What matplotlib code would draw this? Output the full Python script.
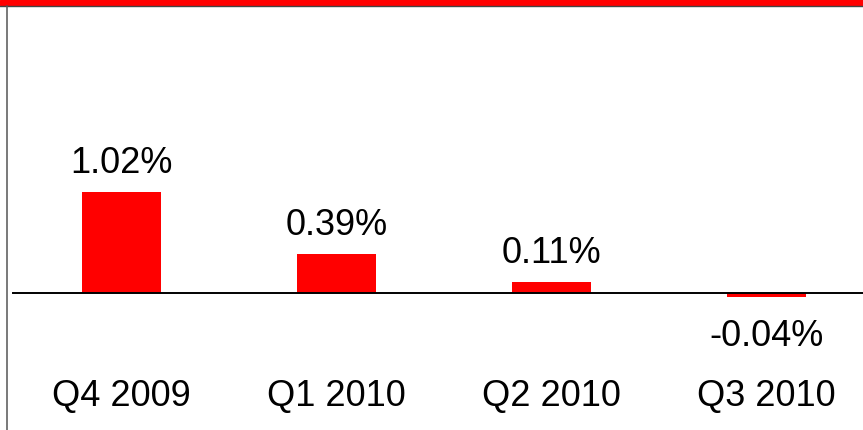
import matplotlib.pyplot as plt
from matplotlib.lines import Line2D
from matplotlib.patches import Rectangle
import matplotlib.transforms as mtransforms

quarters = ['Q4 2009', 'Q1 2010', 'Q2 2010', 'Q3 2010']
growth = [1.02, 0.39, 0.11, -0.04]
labels = ['1.02%', '0.39%', '0.11%', '-0.04%']

plt.rcParams['font.family'] = ['Liberation Sans', 'DejaVu Sans']

W, H = 863, 430
fig = plt.figure(figsize=(W / 100, H / 100), dpi=100)
ax = fig.add_axes([0, 0, 1, 1])
ax.axis('off')

x = list(range(len(quarters)))
ax.bar(x, growth, width=0.367, color='#ff0000', zorder=2)

ax.set_xlim(-121.5 / 215, (W - 121.5) / 215)
ax.set_ylim(-(H - 293) / 99, 293 / 99)

# baseline across the plot
ax.axhline(0, xmin=13 / W, xmax=1, color='black', lw=1.4, zorder=3)

# value labels above / below each bar
for xi, v, lab in zip(x, growth, labels):
    if v >= 0:
        ax.annotate(lab, (xi, v), xytext=(0, 14), textcoords='offset points',
                    ha='center', va='baseline', fontsize=26)
    else:
        ax.annotate(lab, (xi, v), xytext=(0, -16), textcoords='offset points',
                    ha='center', va='top', fontsize=26)

# quarter names along the bottom
trans = mtransforms.blended_transform_factory(ax.transData, ax.transAxes)
for xi, q in zip(x, quarters):
    ax.text(xi, (H - 406) / H, q, transform=trans, ha='center', va='baseline',
            fontsize=26)

# red band across the top and frame line on the left
fig.patches.append(Rectangle((0, (H - 5) / H), 1, 5 / H, transform=fig.transFigure,
                             color='#ff0000', zorder=5))
fig.lines.append(Line2D([0, 1], [(H - 5.5) / H] * 2, transform=fig.transFigure,
                        color='#444444', lw=1.0, zorder=6))
fig.lines.append(Line2D([7 / W, 7 / W], [0, (H - 5.5) / H], transform=fig.transFigure,
                        color='#555555', lw=1.1, zorder=6))

fig.savefig('out.png', dpi=100)
